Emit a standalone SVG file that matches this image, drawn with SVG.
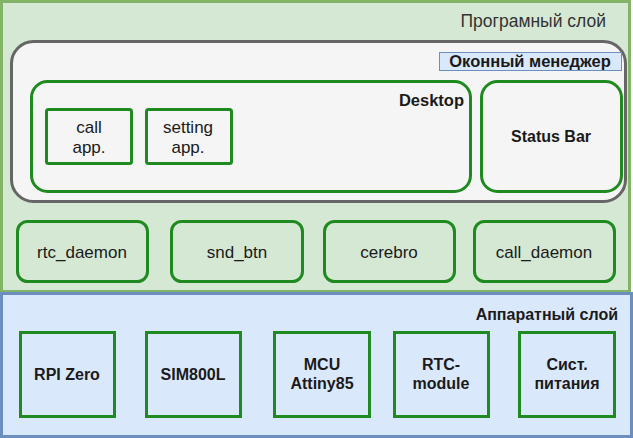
<svg xmlns="http://www.w3.org/2000/svg" width="633" height="438" viewBox="0 0 633 438">
<style>
text{font-family:"Liberation Sans",Arial,sans-serif;fill:#1a1a1a}
.g{stroke:#1f8a1f;stroke-width:3}
.n{font-size:17px;text-anchor:middle}
.b{font-size:16px;font-weight:bold;text-anchor:middle}
</style>
<g id="soft-layer">
<rect x="1.5" y="1.5" width="628" height="290" fill="#d5e8d4" stroke="#82b366" stroke-width="3"/>
<text x="606" y="27" font-size="17.5" text-anchor="end" style="fill:#333">Програмный слой</text>
</g>
<g id="hw-layer">
<rect x="1.5" y="293.5" width="630" height="143" fill="#dae8fc" stroke="#6c8ebf" stroke-width="3"/>
<text x="618" y="320" font-size="16" font-weight="bold" text-anchor="end">Аппаратный слой</text>
</g>
<g id="wm">
<rect x="11.5" y="41.5" width="614" height="160" rx="22" fill="#f5f5f5" stroke="#666" stroke-width="3"/>
<rect x="439.5" y="52.5" width="182" height="18" fill="#dae8fc" stroke="#6c8ebf" stroke-width="1"/>
<text x="530" y="67" font-size="16.5" font-weight="bold" text-anchor="middle">Оконный менеджер</text>
</g>
<g id="desktop">
<rect x="31.5" y="81.5" width="439" height="110" rx="16" fill="#f5f5f5" class="g"/>
<text x="464" y="106" font-size="16.5" font-weight="bold" text-anchor="end">Desktop</text>
</g>
<g id="call-app">
<rect x="46.5" y="109.5" width="85" height="54" rx="2" fill="#f5f5f5" class="g"/>
<text class="n" x="89" y="133">call</text>
<text class="n" x="89" y="153">app.</text>
</g>
<g id="setting-app">
<rect x="146.5" y="109.5" width="85" height="54" rx="2" fill="#f5f5f5" class="g"/>
<text class="n" x="188" y="133">setting</text>
<text class="n" x="188" y="153">app.</text>
</g>
<g id="status-bar">
<rect x="481.5" y="81.5" width="140" height="110" rx="16" fill="#f5f5f5" class="g"/>
<text class="b" x="551" y="142" font-size="16.5">Status Bar</text>
</g>
<g id="rtc-daemon">
<rect x="17.5" y="221.5" width="130" height="60" rx="10" fill="#d5e8d4" class="g"/>
<text class="n" x="82" y="258">rtc_daemon</text>
</g>
<g id="snd-btn">
<rect x="171.5" y="221.5" width="131" height="60" rx="10" fill="#d5e8d4" class="g"/>
<text class="n" x="237" y="258">snd_btn</text>
</g>
<g id="cerebro">
<rect x="324.5" y="221.5" width="130" height="60" rx="10" fill="#d5e8d4" class="g"/>
<text class="n" x="389" y="258">cerebro</text>
</g>
<g id="call-daemon">
<rect x="474.5" y="221.5" width="140" height="60" rx="10" fill="#d5e8d4" class="g"/>
<text class="n" x="544" y="258">call_daemon</text>
</g>
<g id="rpi">
<rect x="20.5" y="332.5" width="94" height="84" fill="#dae8fc" class="g"/>
<text class="b" x="67" y="380">RPI Zero</text>
</g>
<g id="sim">
<rect x="146.5" y="332.5" width="94" height="84" fill="#dae8fc" class="g"/>
<text class="b" x="193" y="380">SIM800L</text>
</g>
<g id="mcu">
<rect x="274.5" y="332.5" width="95" height="84" fill="#dae8fc" class="g"/>
<text class="b" x="322" y="370">MCU</text>
<text class="b" x="322" y="389">Attiny85</text>
</g>
<g id="rtc">
<rect x="394.5" y="332.5" width="94" height="84" fill="#dae8fc" class="g"/>
<text class="b" x="441" y="370">RTC-</text>
<text class="b" x="441" y="389">module</text>
</g>
<g id="power">
<rect x="519.5" y="332.5" width="95" height="84" fill="#dae8fc" class="g"/>
<text class="b" x="567" y="370" font-size="14">Сист.</text>
<text class="b" x="567" y="389" font-size="14">питания</text>
</g>
<g id="connectors"/>
</svg>
